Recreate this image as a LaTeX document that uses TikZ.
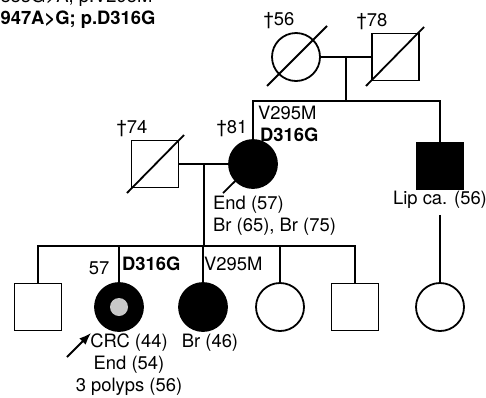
\documentclass[tikz,border=0pt]{standalone}
\usepackage{fontspec}
\setmainfont{TeX Gyre Heros}
\usetikzlibrary{arrows.meta,positioning,calc}
\definecolor{affected}{HTML}{000000}
\definecolor{polyp}{HTML}{C8C8C8}
\tikzset{male/.style={draw=black,line width=1.8pt,rectangle,minimum size=47pt,inner sep=0pt},female/.style={draw=black,line width=1.8pt,circle,minimum size=48pt,inner sep=0pt},lab/.style={font=\fontsize{18.4}{22}\selectfont,inner sep=0pt},bold/.style={font=\fontsize{18.4}{22}\selectfont\bfseries},arrow/.style={-{Latex[length=12pt,width=9pt]},line width=1.8pt},line/.style={line width=1.8pt}}

\begin{document}
\begin{tikzpicture}[x=1pt,y=-1pt]
\useasboundingbox (0,0) rectangle (486,397);
% first generation
\node[female] (gm) at (296,57) {};
\node[male] (gf) at (395.5,57) {};
\node[lab] (gmage) at (279,21) {†56};
\node[lab] (gfage) at (372,22) {†78};
\coordinate (top) at (346,101);
% second generation
\node[male] (fa) at (155,164) {};
\node[female,fill=affected] (mo) at (253,164) {};
\node[male,fill=affected] (lip) at (440,166) {};
\node[lab] (faage) at (132,129) {†74};
\node[lab] (moage) at (232,129) {†81};
\node[lab,anchor=west] (mov) at (258,113) {V295M};
\node[lab,bold,anchor=west] (mod) at (260,135) {D316G};
\node[lab,anchor=west,align=left] (modx) at (213,216) {End (57)\\Br (65), Br (75)};
\node[lab] (lipdx) at (440,200) {Lip ca. (56)};
\coordinate (mid) at (204,246);
% third generation
\node[male] (c1) at (38,307) {};
\node[female,fill=affected] (c2) at (119,307) {};
\node[circle,fill=polyp,minimum size=18pt,inner sep=0pt] (c2in) at (c2) {};
\node[female,fill=affected] (c3) at (203,307) {};
\node[female] (c4) at (280,307) {};
\node[male] (c5) at (355,307) {};
\node[female] (c6) at (440,307) {};
\node[lab] (c2age) at (99,268) {57};
\node[lab,bold,anchor=west] (c2d) at (122,264) {D316G};
\node[lab,anchor=west] (c3v) at (204,264) {V295M};
\node[lab,align=center] (c2dx) at (129,365) {CRC (44)\\End (54)\\3 polyps (56)};
\node[lab] (c3dx) at (210,343) {Br (46)};
\coordinate (pa) at (67,357);
\coordinate (pb) at (91,333);
% variants
\node[lab,anchor=base west] (v1) at (-14,2) {c.883G>A; p.V295M};
\node[lab,bold,anchor=base west] (v2) at (-15,24) {c.947A>G; p.D316G};
% lines of descent
\draw[line](gm)--(gf);\draw[line](top |- gm)--(top);
\draw[line](mo.north)|-(top)-|(lip.north);
\draw[line](fa)--(mo);\draw[line](mid |- mo)--(mid);
\draw[line](c1.north)|-(mid)-|(c5.north);
\foreach \k in {c2,c3,c4} \draw[line](\k.north)--(\k.north |- mid);
\draw[line](lipdx.south)++(0,6)--(c6.north);
% deceased
\draw[line](gm.center)++(-29,29)--++(60,-60);
\draw[line](gf.center)++(-29.5,29)--++(58,-59);
\draw[line](fa.center)++(-28,29)--++(57,-58);
\draw[line](mo.center)++(-30,29)--++(47,-46);
% proband
\draw[arrow](pa)--(pb);
\end{tikzpicture}
\end{document}
